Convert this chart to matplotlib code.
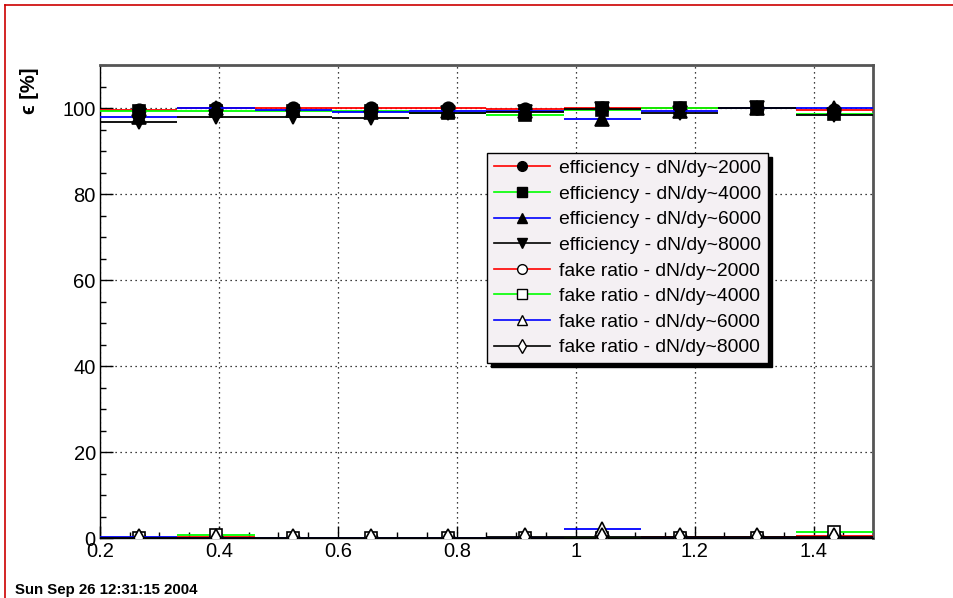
import matplotlib
matplotlib.use("Agg")
import matplotlib.pyplot as plt
from matplotlib.lines import Line2D
from matplotlib.ticker import MultipleLocator, FixedLocator

plt.rcParams['font.family'] = ['Liberation Sans', 'DejaVu Sans']

# ---- data ----
bin_edges = [0.2, 0.33, 0.46, 0.59, 0.72, 0.85, 0.98, 1.11, 1.24, 1.37, 1.5]
bin_centers = [0.265, 0.395, 0.525, 0.655, 0.785, 0.915, 1.045, 1.175, 1.305, 1.435]

eff_2000 = [99.6, 99.9, 99.9, 99.9, 100.0, 99.8, 99.9, 99.9, 100.0, 99.6]
eff_4000 = [99.2, 99.3, 99.2, 99.4, 98.9, 98.3, 99.5, 99.9, 99.9, 98.5]
eff_6000 = [98.0, 99.9, 99.5, 99.1, 99.3, 99.4, 97.5, 99.3, 99.9, 99.9]
eff_8000 = [96.8, 97.9, 97.9, 97.6, 98.8, 99.0, 99.8, 98.8, 99.9, 98.4]

eff_err_2000 = [0.2, 0.1, 0.1, 0.1, 0.1, 0.2, 0.2, 0.6, 1.0, 1.2]
eff_err_4000 = [0.3, 0.2, 0.2, 0.2, 0.2, 0.3, 0.3, 0.4, 0.5, 1.5]
eff_err_6000 = [0.4, 0.2, 0.2, 0.3, 0.3, 0.3, 0.5, 0.4, 0.5, 0.8]
eff_err_8000 = [0.5, 0.4, 0.4, 0.4, 0.4, 0.4, 0.4, 0.5, 0.5, 0.8]

fake_2000 = [0.1, 0.2, 0.1, 0.1, 0.1, 0.1, 0.1, 0.2, 0.3, 0.5]
fake_4000 = [0.1, 0.6, 0.0, 0.1, 0.1, 0.1, 0.1, 0.1, 0.1, 1.3]
fake_6000 = [0.2, 0.1, 0.1, 0.0, 0.0, 0.1, 2.0, 0.1, 0.0, 0.0]
fake_8000 = [0.0, 0.0, 0.1, 0.1, 0.1, 0.2, 0.2, 0.2, 0.2, 0.3]

fake_err_2000 = [0.1, 0.1, 0.1, 0.1, 0.1, 0.1, 0.1, 1.2, 1.4, 2.2]
fake_err_4000 = [0.1, 0.3, 0.1, 0.1, 0.1, 0.1, 0.1, 0.2, 0.2, 1.0]
fake_err_6000 = [0.1, 0.1, 0.1, 0.1, 0.1, 0.1, 0.8, 0.2, 0.1, 0.1]
fake_err_8000 = [0.1, 0.1, 0.1, 0.1, 0.1, 0.1, 0.1, 0.1, 0.1, 0.2]

labels = ["efficiency - dN/dy~2000", "efficiency - dN/dy~4000",
          "efficiency - dN/dy~6000", "efficiency - dN/dy~8000",
          "fake ratio - dN/dy~2000", "fake ratio - dN/dy~4000",
          "fake ratio - dN/dy~6000", "fake ratio - dN/dy~8000"]

x_ticks = [0.2, 0.4, 0.6, 0.8, 1.0, 1.2, 1.4]
x_tick_labels = ["0.2", "0.4", "0.6", "0.8", "1", "1.2", "1.4"]
y_ticks = [0, 20, 40, 60, 80, 100]
y_tick_labels = ["0", "20", "40", "60", "80", "100"]

# ---- style ----
colors = ["#ff0000", "#00ff00", "#0000ff", "#000000"] * 2
markers = ["o", "s", "^", "v", "o", "s", "^", "d"]
filled = [True] * 4 + [False] * 4
msizes = [9, 8.5, 9.5, 9.5, 9, 8.5, 9.5, 9]

series = [eff_2000, eff_4000, eff_6000, eff_8000, fake_2000, fake_4000, fake_6000, fake_8000]
errors = [eff_err_2000, eff_err_4000, eff_err_6000, eff_err_8000,
          fake_err_2000, fake_err_4000, fake_err_6000, fake_err_8000]

fig = plt.figure(figsize=(9.54, 5.98), dpi=100)
ax = fig.add_axes([100 / 954, 60 / 598, 773 / 954, 473 / 598])

lows = bin_edges[:-1]
highs = bin_edges[1:]
for i, (vals, errs) in enumerate(zip(series, errors)):
    c = colors[i]
    z = 3 + i * 0.1
    ax.hlines(vals, lows, highs, colors=c, lw=1.3, zorder=z)
    ax.vlines(bin_centers, [v - e for v, e in zip(vals, errs)],
              [v + e for v, e in zip(vals, errs)], colors=c, lw=1.3, zorder=z)
    ax.plot(bin_centers, vals, ls='none', marker=markers[i], ms=msizes[i],
            mfc='black' if filled[i] else 'white', mec='black', mew=1.2,
            zorder=z + 0.05)

ax.set_xlim(0.2, 1.5)
ax.set_ylim(0, 110)
ax.xaxis.set_major_locator(FixedLocator(x_ticks))
ax.set_xticklabels(x_tick_labels)
ax.xaxis.set_minor_locator(MultipleLocator(0.05))
ax.yaxis.set_major_locator(FixedLocator(y_ticks))
ax.set_yticklabels(y_tick_labels)
ax.yaxis.set_minor_locator(MultipleLocator(5))
ax.tick_params(axis='both', which='both', direction='in', top=False, right=False,
               labelsize=14.5, width=1, color='black')
ax.tick_params(axis='x', which='major', length=9, pad=3)
ax.tick_params(axis='x', which='minor', length=4.5)
ax.tick_params(axis='y', which='major', length=9, pad=3)
ax.tick_params(axis='y', which='minor', length=4.5)
ax.grid(True, which='major', color='black', ls=(0, (1, 3)), lw=0.9)
for s in ['left', 'bottom']:
    ax.spines[s].set_linewidth(1.0)
for s in ['top', 'right']:
    ax.spines[s].set_linewidth(2.0)
    ax.spines[s].set_color('#555555')

# legend
handles = []
for i in range(8):
    handles.append(Line2D([0], [0], color=colors[i], lw=1.2, marker=markers[i],
                          ms=7, mfc='black' if filled[i] else 'white',
                          mec='black', mew=1.0))
leg = ax.legend(handles, labels, loc='upper left',
                bbox_to_anchor=((487 - 100) / 773, (538 - 153) / 473),
                borderaxespad=0, fontsize=13.9, handlelength=2.9,
                handletextpad=0.5, labelspacing=0.42, borderpad=0.34,
                fancybox=False, framealpha=1, edgecolor='black',
                facecolor='#f4f0f3',
                shadow={'color': 'black', 'alpha': 1.0, 'ox': 3, 'oy': -3})
leg.get_frame().set_linewidth(1.0)
leg.set_zorder(10)

# y label (ROOT style, at top end)
fig.text(30 / 954, 1 - 67 / 598, "\u03f5 [%]", rotation=90, ha='center', va='top',
         fontsize=14.5, fontweight='bold')

# timestamp
fig.text(15 / 954, 1 - 590 / 598, "Sun Sep 26 12:31:15 2004", ha='left',
         va='center', fontsize=10.8, fontweight='bold')

# canvas border (red)
fig.add_artist(Line2D([5 / 954, 1.0], [1 - 5 / 598, 1 - 5 / 598],
                      transform=fig.transFigure, color='#cc0000', lw=1.2))
fig.add_artist(Line2D([5 / 954, 5 / 954], [0.0, 1 - 5 / 598],
                      transform=fig.transFigure, color='#cc0000', lw=1.2))

fig.savefig("out.png", dpi=100)
